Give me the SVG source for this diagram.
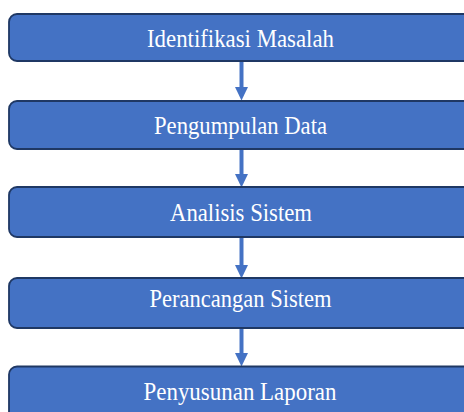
<svg xmlns="http://www.w3.org/2000/svg" width="464" height="412" viewBox="0 0 464 412">
<style>
.box{fill:#4472C4;stroke:#1F3864;stroke-width:1.8}
.lbl{font-size:25px;fill:#FFFFFF;text-anchor:start}
.conn{stroke:#4472C4;stroke-width:4;fill:none}
.head{fill:#4472C4}
</style>
<rect width="464" height="412" fill="#FFFFFF"/>
<g id="connectors">
<line class="conn" x1="241.5" y1="61" x2="241.5" y2="88"/>
<polygon class="head" points="235,87 248,87 241.5,100.5"/>
<line class="conn" x1="241.5" y1="149" x2="241.5" y2="175"/>
<polygon class="head" points="235,174 248,174 241.5,187.5"/>
<line class="conn" x1="241.5" y1="237" x2="241.5" y2="266"/>
<polygon class="head" points="235,265 248,265 241.5,278.5"/>
<line class="conn" x1="241.5" y1="328" x2="241.5" y2="354"/>
<polygon class="head" points="235,353 248,353 241.5,366.5"/>
</g>
<g id="n1">
<rect class="box" x="9" y="14" width="480" height="47" rx="8"/>
<text class="lbl" font-family="'Liberation Serif', 'DejaVu Serif', serif" x="147" y="46.5" textLength="187" lengthAdjust="spacingAndGlyphs">Identifikasi  Masalah</text>
</g>
<g id="n2">
<rect class="box" x="9" y="101" width="480" height="48" rx="8"/>
<text class="lbl" font-family="'Liberation Serif', 'DejaVu Serif', serif" x="154" y="134" textLength="173" lengthAdjust="spacingAndGlyphs">Pengumpulan Data</text>
</g>
<g id="n3">
<rect class="box" x="9" y="187" width="480" height="50" rx="8"/>
<text class="lbl" font-family="'Liberation Serif', 'DejaVu Serif', serif" x="170" y="221" textLength="142" lengthAdjust="spacingAndGlyphs">Analisis  Sistem</text>
</g>
<g id="n4">
<rect class="box" x="9" y="278" width="480" height="50" rx="8"/>
<text class="lbl" font-family="'Liberation Serif', 'DejaVu Serif', serif" x="149.5" y="307" textLength="182" lengthAdjust="spacingAndGlyphs">Perancangan Sistem</text>
</g>
<g id="n5">
<rect class="box" x="9" y="366.5" width="480" height="70" rx="8"/>
<text class="lbl" font-family="'Liberation Serif', 'DejaVu Serif', serif" x="143.5" y="400" textLength="193" lengthAdjust="spacingAndGlyphs">Penyusunan Laporan</text>
</g>
</svg>
